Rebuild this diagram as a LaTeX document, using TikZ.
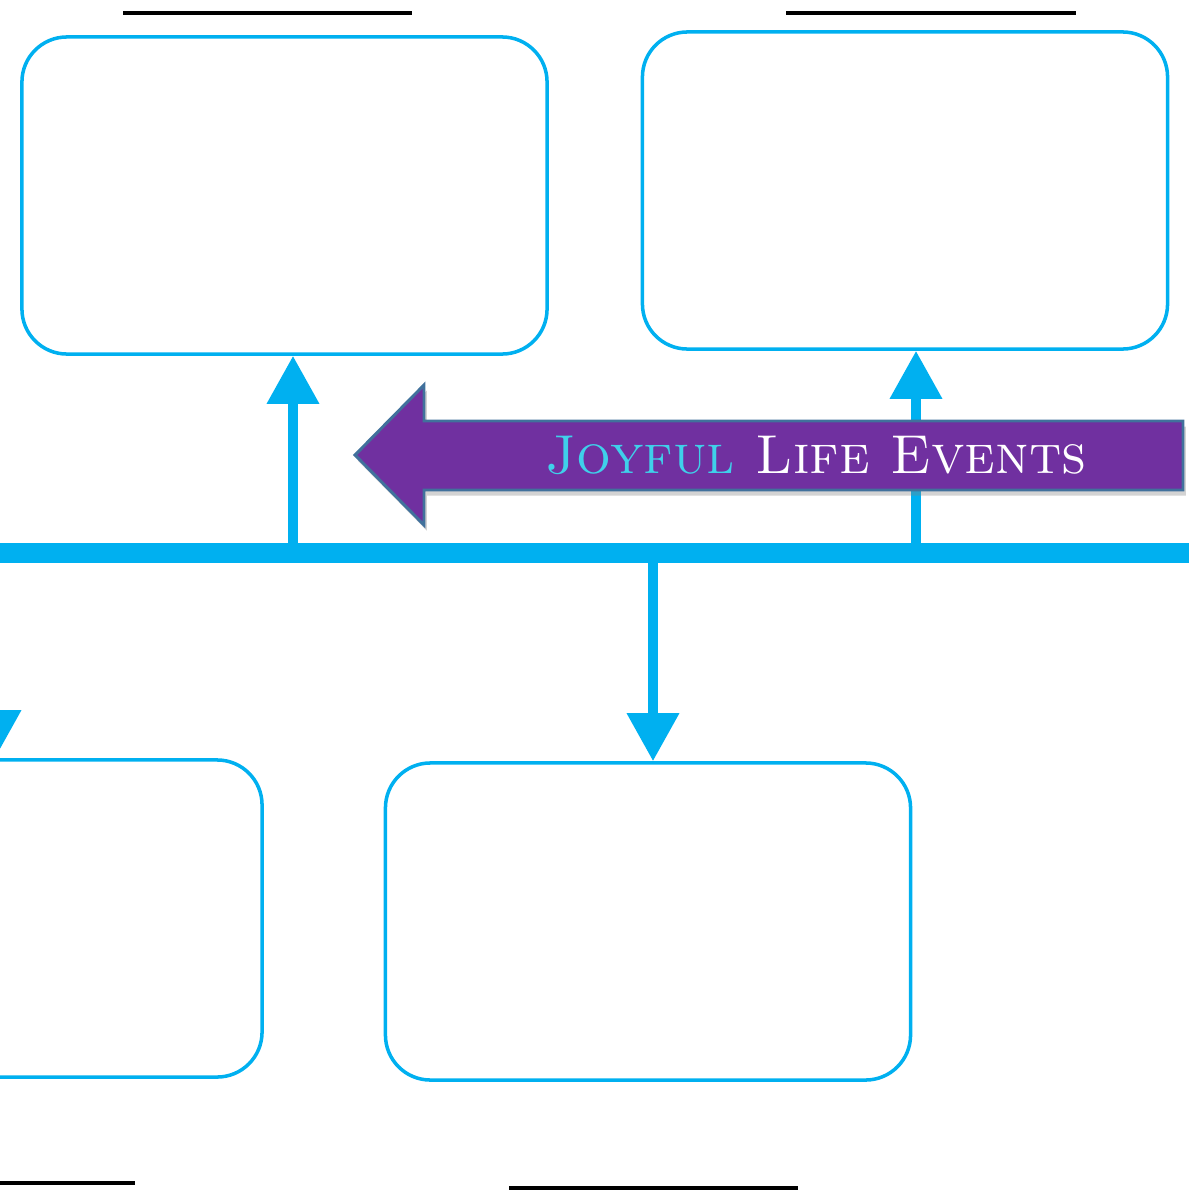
\documentclass[tikz,border=0pt]{standalone}
\usepackage{fontspec}
\usetikzlibrary{arrows.meta,shadows,positioning}
\definecolor{lineblue}{HTML}{00B0F0}
\definecolor{bannerfill}{HTML}{7030A0}
\definecolor{bannerrim}{HTML}{41719C}
\definecolor{joycyan}{HTML}{3FD0EA}

\begin{document}
\begin{tikzpicture}[x=0.025cm,y=-0.025cm,
    event/.style={rectangle,draw=lineblue,line width=2.5pt,rounded corners=1.125cm,minimum width=13.125cm,minimum height=7.925cm,inner sep=0pt},
    link/.style={-{Triangle[width=1.25cm,length=1.2cm]},draw=lineblue,line width=7pt},
    rule/.style={line width=3.5pt,black},
    banner/.style={fill=bannerfill,draw=bannerrim,line width=2.1pt,drop shadow={shadow xshift=2pt,shadow yshift=-4pt,opacity=0.35}}]
    \useasboundingbox (0,0) rectangle (1189,1191);
    \clip (0,0) rectangle (1189,1191);
    % event boxes
    \node[event] (evA) at (284.5,195.5) {};
    \node[event] (evB) at (905,190.5) {};
    \node[event] (evC) at (-0.5,918.5) {};
    \node[event] (evD) at (648,921.5) {};
    % name lines
    \draw[rule] (123,13) -- (412,13);
    \draw[rule] (786,13) -- (1076,13);
    \draw[rule] (0,1183) -- (135,1183);
    \draw[rule] (509,1188) -- (798,1188);
    % timeline
    \coordinate (tA) at (293,553);
    \coordinate (tB) at (916,553);
    \coordinate (tC) at (-5,553);
    \coordinate (tD) at (653,553);
    \draw[lineblue,line width=14.2pt] (0,553) -- (1189,553);
    \draw[link] (tA) -- (tA |- evA.south);
    \draw[link] (tB) -- (tB |- evB.south);
    \draw[link] (tC) -- (tC |- evC.north);
    \draw[link] (tD) -- (tD |- evD.north);
    % banner
    \path[banner] (355,455) -- (424,385) -- (424,421) -- (1183,421) -- (1183,490)
        -- (424,490) -- (424,525) -- cycle;
    \node[anchor=base,text=white,font=\fontsize{39}{39}\selectfont\scshape] (title) at (816,473)
        {\textcolor{joycyan}{Joyful} Life Events};
\end{tikzpicture}
\end{document}
